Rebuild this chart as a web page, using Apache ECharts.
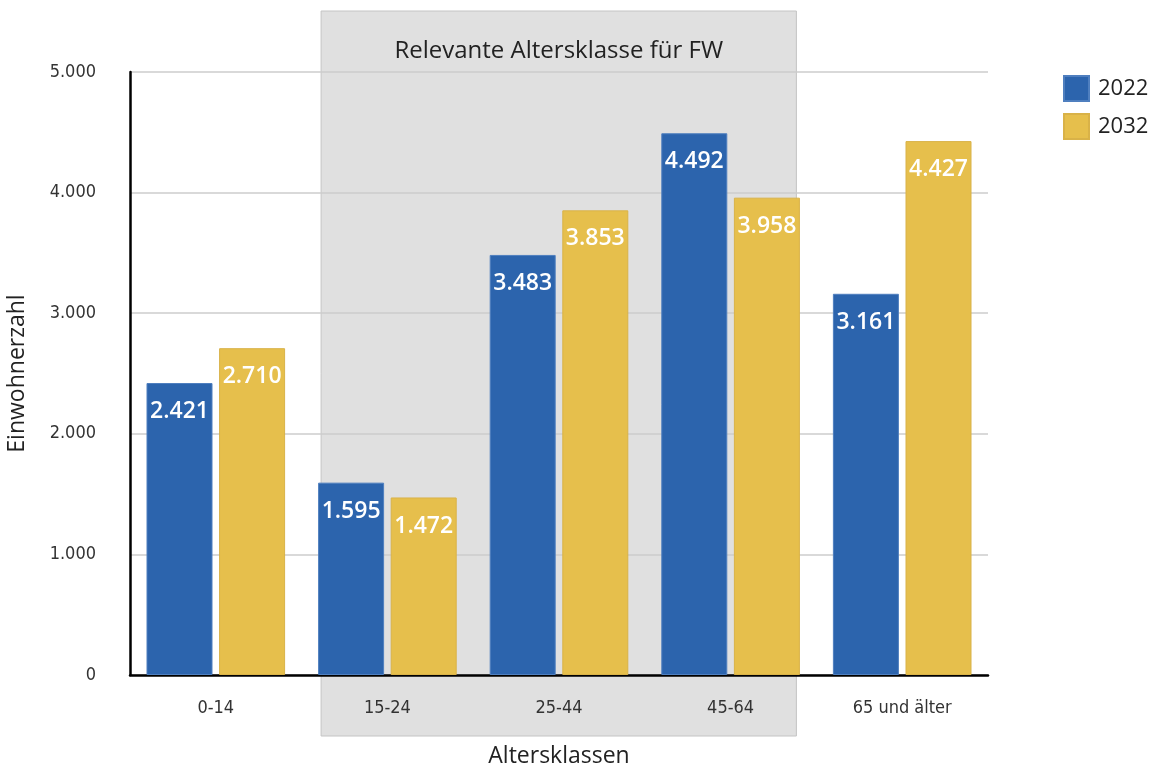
<!DOCTYPE html>
<html><head><meta charset="utf-8">
<script src="https://cdn.jsdelivr.net/npm/echarts@6/dist/echarts.min.js"></script>
<style>html,body{margin:0;padding:0;background:#fff}#c{width:1155px;height:769px}</style>
</head><body><div id="c"></div>
<script>
const categories = ['0-14', '15-24', '25-44', '45-64', '65 und älter'];
const seriesNames = ['2022', '2032'];
const values2022 = [2421, 1595, 3483, 4492, 3161];
const values2032 = [2710, 1472, 3853, 3958, 4427];
const highlightFrom = '15-24';
const highlightTo = '45-64';
const highlightTitle = 'Relevante Altersklasse für FW';

const fmt = v => String(v).replace(/\B(?=(\d{3})+(?!\d))/g, '.');
const tickFont = "'DejaVu Sans Condensed', 'Liberation Sans Narrow', 'Roboto Condensed', sans-serif";
const chart = echarts.init(document.getElementById('c'));
const labelStyle = {
  show: true, position: 'insideTop', distance: 17, color: '#fff',
  fontFamily: 'Open Sans', fontWeight: 600, fontSize: 23,
  formatter: p => fmt(p.value)
};
chart.setOption({
  animation: false,
  textStyle: { fontFamily: 'Open Sans' },
  grid: { left: 130, right: 167, top: 72, bottom: 94, outerBoundsMode: 'none' },
  legend: {
    orient: 'vertical', left: 1058, top: 70, itemWidth: 25, itemHeight: 25, itemGap: 11,
    icon: 'rect', data: seriesNames,
    textStyle: { fontSize: 22, color: '#222', fontFamily: 'Open Sans', padding: [0, 0, 0, 4] }
  },
  xAxis: {
    type: 'category', data: categories,
    name: 'Altersklassen', nameLocation: 'middle', nameGap: 70,
    nameTextStyle: { fontSize: 23, color: '#222', fontFamily: 'Open Sans' },
    axisLine: { lineStyle: { color: '#000', width: 2.5 } },
    axisTick: { show: false },
    axisLabel: { margin: 24, fontSize: 18, color: '#333', fontFamily: tickFont }
  },
  yAxis: {
    type: 'value', min: 0, max: 5000, interval: 1000,
    name: 'Einwohnerzahl', nameLocation: 'middle', nameGap: 101,
    nameTextStyle: { fontSize: 23, color: '#222', fontFamily: 'Open Sans' },
    axisLine: { show: true, lineStyle: { color: '#000', width: 2.5 } },
    axisTick: { show: false },
    splitLine: { lineStyle: { color: '#cccccc', width: 1.5 } },
    axisLabel: { margin: 34, fontSize: 18, color: '#333', fontFamily: tickFont, formatter: v => fmt(v) }
  },
  series: [
    { name: seriesNames[0], type: 'bar', data: values2022, barWidth: 66, barGap: '10%',
      itemStyle: { color: '#2c64ad', borderColor: '#4f7fbf', borderWidth: 1 }, label: labelStyle },
    { name: seriesNames[1], type: 'bar', data: values2032, barWidth: 66,
      itemStyle: { color: '#e6bf4c', borderColor: '#d9b248', borderWidth: 1 }, label: labelStyle }
  ]
});

// Shaded annotation box spanning the highlighted categories
const x0 = chart.convertToPixel({ xAxisIndex: 0 }, highlightFrom);
const x1 = chart.convertToPixel({ xAxisIndex: 0 }, highlightTo);
const band = chart.convertToPixel({ xAxisIndex: 0 }, categories[1]) - chart.convertToPixel({ xAxisIndex: 0 }, categories[0]);
const left = x0 - band / 2 + 19.5;
const right = x1 + band / 2 - 20;
const yTop = chart.convertToPixel({ yAxisIndex: 0 }, 5000);
const yBot = chart.convertToPixel({ yAxisIndex: 0 }, 0);
chart.setOption({
  graphic: [
    { type: 'rect', z: -10, silent: true,
      shape: { x: left, y: yTop - 61, width: right - left, height: (yBot - yTop) + 122 },
      style: { fill: '#e0e0e0', stroke: '#c4c4c4', lineWidth: 1 } },
    { type: 'text', z: 10, silent: true, x: (left + right) / 2, y: yTop - 21,
      style: { text: highlightTitle, fill: '#222', fontSize: 24, fontFamily: 'Open Sans', align: 'center', verticalAlign: 'middle' } }
  ]
});
</script></body></html>
